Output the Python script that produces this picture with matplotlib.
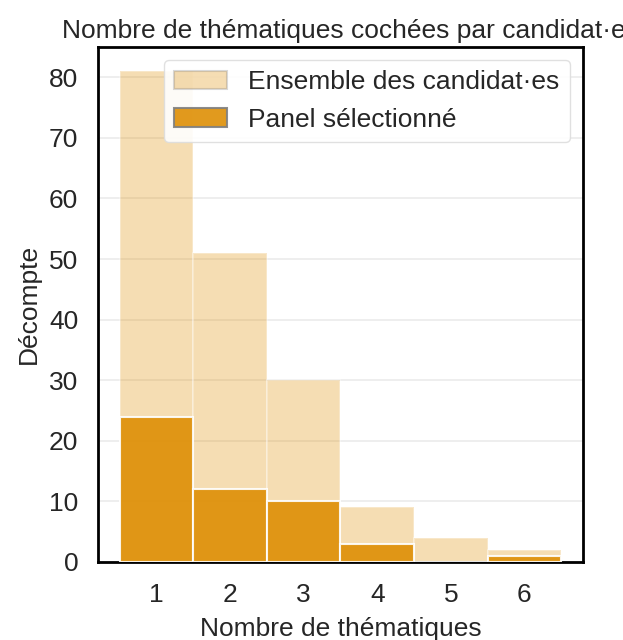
import numpy as np
import matplotlib.pyplot as plt
from matplotlib.patches import Patch

plt.rcParams['font.family'] = ['Liberation Sans', 'DejaVu Sans']
plt.rcParams['text.color'] = '#262626'
plt.rcParams['axes.labelcolor'] = '#262626'
plt.rcParams['xtick.color'] = '#262626'
plt.rcParams['ytick.color'] = '#262626'

themes = [1, 2, 3, 4, 5, 6]
all_counts = [81, 51, 30, 9, 4, 2]
panel_counts = [24, 12, 10, 3, 0, 1]
labels = ['Ensemble des candidat·es', 'Panel sélectionné']

orange = '#DE8F05'

fig = plt.figure(figsize=(6.23, 6.4), dpi=100)
ax = fig.add_axes([0.157, 0.122, 0.779, 0.805])

ax.bar(themes, all_counts, width=1, color=orange, alpha=0.3,
       edgecolor='white', linewidth=1.5, zorder=2)
ax.bar(themes, panel_counts, width=1, color=orange, alpha=0.9,
       edgecolor='white', linewidth=1.5, zorder=3)

ax.set_xlim(0.2, 6.8)
ax.set_ylim(0, 85.05)
ax.set_xticks(themes)
ax.set_yticks(np.arange(0, 81, 10))
ax.yaxis.grid(True, color='#EBEBEB', linewidth=1.2, zorder=0)
ax.set_axisbelow(True)
ax.tick_params(labelsize=19, length=0)
ax.tick_params(axis='y', pad=14)
ax.tick_params(axis='x', pad=15)
for s in ax.spines.values():
    s.set_color('black')
    s.set_linewidth(2)

ax.set_xlabel('Nombre de thématiques', fontsize=19, labelpad=7.5)
ax.set_ylabel('Décompte', fontsize=19, labelpad=6)
# title is wider than the figure and gets cut on the right, like the original
ax.set_title('Nombre de thématiques cochées par candidat·es', fontsize=19,
             loc='left', x=-0.074, pad=6)

handles = [Patch(facecolor=orange, alpha=0.3, edgecolor='0.5', linewidth=1.5),
           Patch(facecolor=orange, alpha=0.9, edgecolor='0.5', linewidth=1.5)]
ax.legend(handles, labels, loc='upper right', fontsize=19, frameon=True,
          edgecolor='#DDDDDD', framealpha=0.9, handlelength=2.0,
          handletextpad=0.8, borderpad=0.4, labelspacing=0.5)

fig.savefig('out.png', dpi=100)
